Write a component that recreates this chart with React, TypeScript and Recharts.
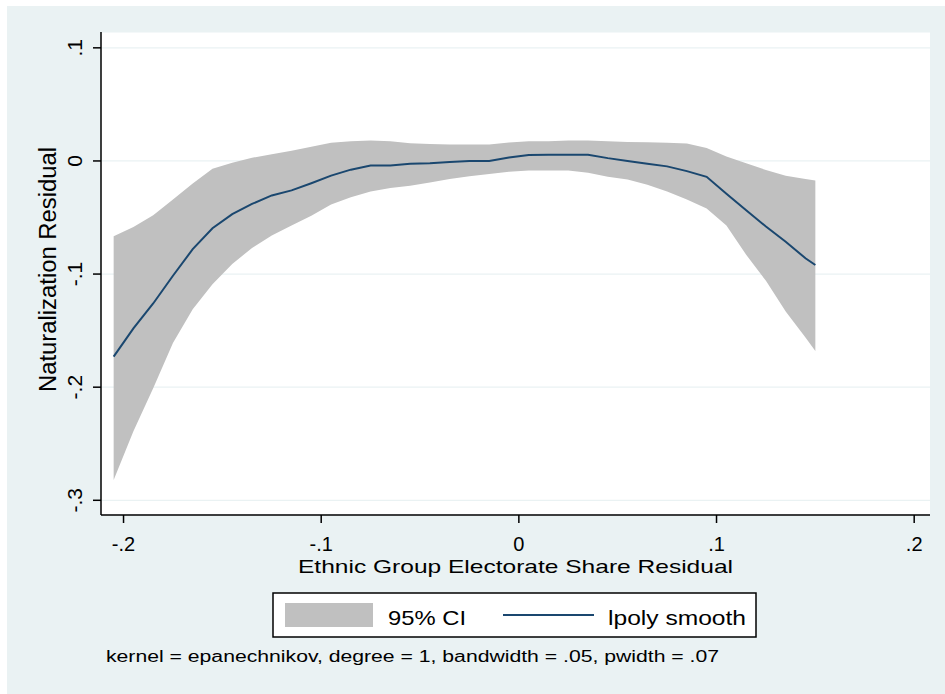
import React from "react";
import { ComposedChart, Area, Line, XAxis, YAxis, CartesianGrid, Legend } from "recharts";

const xValues = [-0.205,-0.195,-0.185,-0.175,-0.165,-0.155,-0.145,-0.135,-0.125,-0.115,-0.105,-0.095,-0.085,-0.075,-0.065,-0.055,-0.045,-0.035,-0.025,-0.015,-0.005,0.005,0.015,0.025,0.035,0.045,0.055,0.065,0.075,0.085,0.095,0.105,0.115,0.125,0.135,0.145,0.15];
const smoothValues = [-0.173,-0.148,-0.126,-0.1015,-0.078,-0.0595,-0.047,-0.038,-0.0305,-0.026,-0.0197,-0.013,-0.0077,-0.004,-0.004,-0.0025,-0.002,-0.001,0,0,0.003,0.0053,0.0055,0.0055,0.0055,0.0025,0,-0.0025,-0.0048,-0.009,-0.014,-0.029,-0.0435,-0.058,-0.0715,-0.086,-0.092];
const ciUpper = [-0.0666,-0.0585,-0.048,-0.034,-0.02,-0.007,-0.0015,0.0028,0.006,0.009,0.0125,0.016,0.0175,0.018,0.0175,0.0157,0.015,0.0146,0.0146,0.0146,0.0163,0.0175,0.0175,0.018,0.018,0.0175,0.0167,0.0165,0.016,0.0155,0.0115,0.004,-0.002,-0.008,-0.013,-0.016,-0.0172];
const ciLower = [-0.282,-0.239,-0.201,-0.161,-0.131,-0.109,-0.091,-0.077,-0.066,-0.057,-0.0485,-0.0385,-0.032,-0.027,-0.024,-0.022,-0.019,-0.016,-0.0135,-0.0115,-0.0095,-0.0084,-0.0084,-0.0084,-0.0105,-0.014,-0.0165,-0.021,-0.027,-0.034,-0.042,-0.057,-0.083,-0.106,-0.133,-0.156,-0.168];

const xTicks = [-0.2, -0.1, 0, 0.1, 0.2];
const yTicks = [-0.3, -0.2, -0.1, 0, 0.1];
const xTitle = "Ethnic Group Electorate Share Residual";
const yTitle = "Naturalization Residual";
const ciLabel = "95% CI";
const lineLabel = "lpoly smooth";
const note = "kernel = epanechnikov, degree = 1, bandwidth = .05, pwidth = .07";

const data = xValues.map((x, i) => ({ x, y: smoothValues[i], ci: [ciLower[i], ciUpper[i]] }));

const FONT = '"Liberation Sans", Arial, sans-serif';
const NAVY = "#1a476f";
const CI_GRAY = "#c0c0c0";
const BG = "#eaf2f3";

const fmt = (v: number) => {
  if (Math.abs(v) < 1e-9) return "0";
  return (v < 0 ? "-" : "") + "." + Math.round(Math.abs(v) * 10);
};

const XTick = (props: any) => {
  const { x, y, payload } = props;
  return (
    <text x={x} y={y + 26} textAnchor="middle" fontFamily={FONT} fontSize={20} fill="#000">
      {fmt(payload.value)}
    </text>
  );
};

const YTick = (props: any) => {
  const { x, y, payload } = props;
  return (
    <text x={x} y={y} transform={`rotate(-90, ${x}, ${y})`} textAnchor="middle" fontFamily={FONT} fontSize={21} fill="#000">
      {fmt(payload.value)}
    </text>
  );
};

const LegendContent = () => (
  <svg width={660} height={80} style={{ display: "block" }}>
    <rect x={173} y={3} width={483} height={44} fill="#fff" stroke="#000" strokeWidth={1.5} />
    <rect x={185} y={13} width={88} height={24} fill={CI_GRAY} />
    <text x={288} y={35} fontFamily={FONT} fontSize={21} fill="#000" textLength={78} lengthAdjust="spacingAndGlyphs">{ciLabel}</text>
    <line x1={403} x2={494} y1={25} y2={25} stroke={NAVY} strokeWidth={2} />
    <text x={508} y={35} fontFamily={FONT} fontSize={21} fill="#000" textLength={138} lengthAdjust="spacingAndGlyphs">{lineLabel}</text>
    <text x={6} y={72} fontFamily={FONT} fontSize={16} fill="#000" textLength={613} lengthAdjust="spacingAndGlyphs">{note}</text>
  </svg>
);

export default function App() {
  return (
    <div style={{ position: "absolute", left: 0, top: 0, width: 945, height: 694, background: "#fff", overflow: "hidden" }}>
      <div style={{ position: "absolute", left: 7, top: 6, width: 938, height: 688, background: BG }} />
      <div style={{ position: "absolute", left: 0, top: 0 }}>
        <ComposedChart width={945} height={694} data={data} margin={{ top: 32, right: 15, bottom: 139, left: 0 }}>
          <CartesianGrid fill="#ffffff" vertical={false} stroke={BG} strokeWidth={1.2} />
          <XAxis
            dataKey="x"
            type="number"
            domain={[-0.2114, 0.208]}
            ticks={xTicks}
            allowDataOverflow
            height={40}
            tickSize={8}
            tickMargin={2}
            tick={<XTick />}
            axisLine={{ stroke: "#000", strokeWidth: 1.5 }}
            tickLine={{ stroke: "#000", strokeWidth: 1.5 }}
            label={(p: any) => {
              const vb = p.viewBox || { x: 101, y: 515, width: 829 };
              return (
                <text x={vb.x + vb.width / 2} y={vb.y + 58} textAnchor="middle" fontFamily={FONT} fontSize={19} fill="#000" textLength={435} lengthAdjust="spacingAndGlyphs">
                  {xTitle}
                </text>
              );
            }}
          />
          <YAxis
            type="number"
            domain={[-0.313, 0.114]}
            ticks={yTicks}
            allowDataOverflow
            width={101}
            tickSize={8}
            tickMargin={11}
            tick={<YTick />}
            axisLine={{ stroke: "#000", strokeWidth: 1.5 }}
            tickLine={{ stroke: "#000", strokeWidth: 1.5 }}
            label={(p: any) => {
              const vb = p.viewBox || { x: 0, y: 32, width: 101, height: 483 };
              const cx = 56;
              const cy = vb.y + vb.height / 2 - 4;
              return (
                <text x={cx} y={cy} transform={`rotate(-90, ${cx}, ${cy})`} textAnchor="middle" fontFamily={FONT} fontSize={23} fill="#000" textLength={245} lengthAdjust="spacingAndGlyphs">
                  {yTitle}
                </text>
              );
            }}
          />
          <Area type="linear" dataKey="ci" fill={CI_GRAY} fillOpacity={1} stroke="none" isAnimationActive={false} />
          <Line type="linear" dataKey="y" stroke={NAVY} strokeWidth={2} dot={false} isAnimationActive={false} />
          <Legend
            layout="horizontal"
            verticalAlign="middle"
            align="center"
            wrapperStyle={{ left: 100, top: 590, width: 660, height: 80 }}
            content={() => <LegendContent />}
          />
        </ComposedChart>
      </div>
    </div>
  );
}
